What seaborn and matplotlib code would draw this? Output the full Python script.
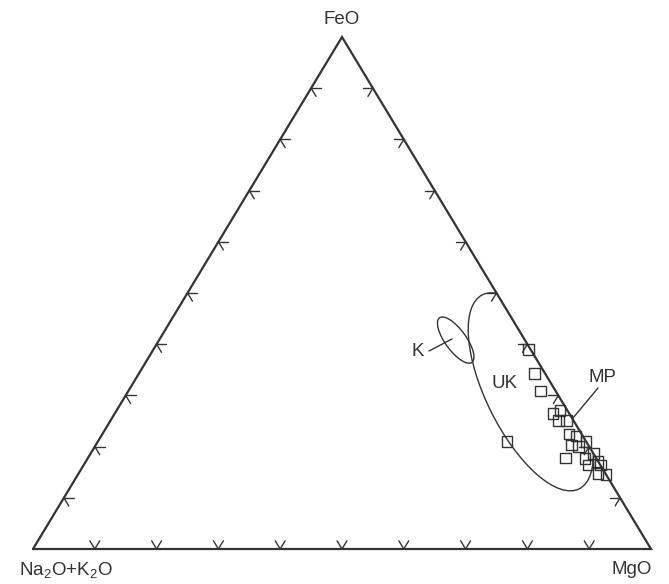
import numpy as np
import matplotlib
matplotlib.use("Agg")
import matplotlib.pyplot as plt
from matplotlib.patches import Ellipse, Polygon
import seaborn as sns
import pandas as pd

# ---- data (ternary compositions, %) ----
feo = [39.0, 34.3, 30.9, 26.5, 27.1, 25.1, 25.1, 22.5, 22.1, 20.3, 20.0,
       21.0, 17.8, 17.7, 18.7, 16.4, 17.1, 16.4, 14.8, 14.5, 21.0]
mgo = [60.7, 64.0, 66.7, 70.9, 71.7, 72.5, 73.8, 75.5, 76.8, 77.0, 78.3,
       79.0, 77.3, 80.5, 81.3, 81.6, 82.9, 83.6, 84.0, 85.5, 66.2]
alk = [100 - f - m for f, m in zip(feo, mgo)]

# field centres (FeO, MgO, Na2O+K2O in %)
uk_centre = [30.7, 65.2, 4.1]
k_centre = [40.8, 48.0, 11.2]

corner_labels = ["FeO", "Na$_{\\mathregular{2}}$O+K$_{\\mathregular{2}}$O", "MgO"]
field_labels = ["K", "UK", "MP"]

W, H = 618.0, 512.0


def tern_xy(f, m, a):
    f = np.asarray(f, float); m = np.asarray(m, float); a = np.asarray(a, float)
    s = f + m + a
    f = f / s
    m = m / s
    return (m + f / 2) * W, f * H


sns.set_theme(style="white")
plt.rcParams["font.family"] = ["Liberation Sans", "DejaVu Sans"]
plt.rcParams["mathtext.fontset"] = "custom"
plt.rcParams["mathtext.rm"] = "Liberation Sans"

fig = plt.figure(figsize=(6.69, 5.84), dpi=100)
ax = fig.add_axes([33 / 669, 35 / 584, 618 / 669, 512 / 584])
ax.set_xlim(0, W)
ax.set_ylim(0, H)
ax.axis("off")

ink = "#333333"

# triangle
cx, cy = tern_xy([0, 0, 100, 0], [0, 100, 0, 0], [100, 0, 0, 100])
ax.plot(cx, cy, color=ink, lw=1.6, solid_joinstyle="miter", clip_on=False, zorder=3)
tri = Polygon(np.column_stack([cx[:3], cy[:3]]), closed=True, transform=ax.transData,
              facecolor="none", edgecolor="none")
ax.add_patch(tri)

# ticks every 10 %
d = 1.6
for t in range(10, 100, 10):
    for (f2, m2, a2) in [(t, d, 100 - t - d), (t - d, d, 100 - t)]:
        x, y = tern_xy([t, f2], [0, m2], [100 - t, a2])
        ax.plot(x, y, color=ink, lw=1.0, zorder=3)
    for (f2, m2, a2) in [(d, t, 100 - t - d), (d, t - d, 100 - t)]:
        x, y = tern_xy([0, f2], [t, m2], [100 - t, a2])
        ax.plot(x, y, color=ink, lw=1.0, zorder=3)
    for (f2, m2, a2) in [(t, 100 - t - d, d), (t - d, 100 - t, d)]:
        x, y = tern_xy([t, f2], [100 - t, m2], [0, a2])
        ax.plot(x, y, color=ink, lw=1.0, zorder=3)

# UK field
ux, uy = tern_xy(*uk_centre)
uk = Ellipse((float(ux), float(uy)), 216.8, 88.8, angle=-63.5,
             facecolor="none", edgecolor=ink, lw=1.0)
ax.add_patch(uk)
uk.set_clip_path(tri)

# K field
kx, ky = tern_xy(*k_centre)
ax.add_patch(Ellipse((float(kx), float(ky)), 55, 21, angle=-54,
                     facecolor="none", edgecolor=ink, lw=1.0))

# MP samples
xs, ys = tern_xy(feo, mgo, alk)
df = pd.DataFrame({"x": xs, "y": ys})
sns.scatterplot(data=df, x="x", y="y", ax=ax, marker="s", s=58, facecolor="none",
                edgecolor=ink, linewidth=1.0, zorder=4, clip_on=False)

fs = 13.5
ax.text(W / 2, H + 18, corner_labels[0], ha="center", va="center", fontsize=fs, color=ink)
ax.text(33, -22, corner_labels[1], ha="center", va="center", fontsize=fs, color=ink)
ax.text(W - 19, -20, corner_labels[2], ha="center", va="center", fontsize=fs, color=ink)

ax.text(385, 198, field_labels[0], ha="center", va="center", fontsize=fs, color=ink)
ax.plot([396, 419], [198, 210], color=ink, lw=1.0)
ax.text(472, 166, field_labels[1], ha="center", va="center", fontsize=fs, color=ink)
ax.text(569, 172, field_labels[2], ha="center", va="center", fontsize=fs, color=ink)
ax.plot([565, 540], [161, 131], color=ink, lw=1.0)

fig.savefig("out.png", dpi=100)
